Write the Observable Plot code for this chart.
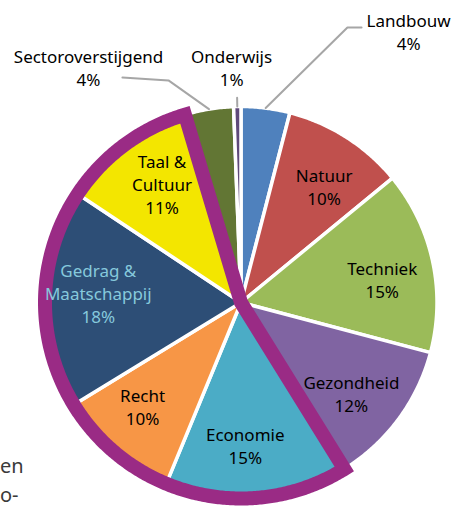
<!DOCTYPE html>
<html><head><meta charset="utf-8">
<script src="https://cdn.jsdelivr.net/npm/d3@7"></script>
<script src="https://cdn.jsdelivr.net/npm/@observablehq/plot@0.6"></script>
<style>
body{margin:0;background:#fff;width:454px;height:507px;overflow:hidden;position:relative;font-family:"Noto Sans",sans-serif}
#chart svg{display:block}
.bodytext{position:absolute;left:0;color:#3a3a3a;font-size:20px;line-height:29px;white-space:nowrap}
</style></head><body>
<div id="chart"></div>
<div class="bodytext" style="top:451px">en</div>
<div class="bodytext" style="top:480px">o-</div>
<script>
// ---- data ----
const categories = ["Landbouw","Natuur","Techniek","Gezondheid","Economie","Recht","Gedrag & Maatschappij","Taal & Cultuur","Sectoroverstijgend","Onderwijs"];
const shares = [4, 10, 15, 12, 15, 10, 18, 11, 4, 0.6];
const shareLabels = ["4%","10%","15%","12%","15%","10%","18%","11%","4%","1%"];
const sliceColors = ["#4F81BD","#C0504D","#9BBB59","#8064A2","#4BACC6","#F79646","#2D4E76","#F3E600","#627634","#5F497A"];
const highlighted = ["Economie","Recht","Gedrag & Maatschappij","Taal & Cultuur"];

// ---- layout (styling) ----
const cx = 240.5, cy = 302, R = 196;
const labelRadius = 0.73, labelTurn = 3 * Math.PI / 180;
const outsideLayout = {
  "Landbouw": {path: [[0.543, 1.403], [0.615, 1.403]], label: [0.855, 1.385]},
  "Sectoroverstijgend": {path: [[-0.370, 1.133], [-0.605, 1.148]], label: [-0.778, 1.202]},
  "Onderwijs": {radialTip: 1.045, label: [-0.048, 1.202]}
};
const lightLabel = {"Gedrag & Maatschappij": "#86C9DC"};
const font = "'Noto Sans', sans-serif";
const fs = 17, lh = 23 / 17;

// ---- geometry via d3.pie ----
const arcs = d3.pie().value(d => d).sort(null)(shares);
const pt = (a, k) => ({x: k * Math.sin(a), y: k * Math.cos(a)});
const step = Math.PI / 360;

const slicePts = [];
arcs.forEach((a, i) => {
  const name = categories[i];
  slicePts.push({name, x: 0, y: 0});
  const n = Math.max(2, Math.ceil((a.endAngle - a.startAngle) / step));
  for (let j = 0; j <= n; j++) {
    const t = a.startAngle + (a.endAngle - a.startAngle) * j / n;
    slicePts.push({name, ...pt(t, 1)});
  }
  slicePts.push({name, x: 0, y: 0});
});

const hiArcs = arcs.filter((a, i) => highlighted.includes(categories[i]));
const h0 = d3.min(hiArcs, a => a.startAngle), h1 = d3.max(hiArcs, a => a.endAngle);
const outlinePts = [{x: 0, y: 0}];
{
  const n = Math.ceil((h1 - h0) / step);
  for (let j = 0; j <= n; j++) outlinePts.push(pt(h0 + (h1 - h0) * j / n, 1));
  outlinePts.push({x: 0, y: 0});
  outlinePts.push(pt(h0, 1));
}

const innerLabels = [], outerLabels = [], leaderPts = [];
arcs.forEach((a, i) => {
  const name = categories[i];
  const mid = (a.startAngle + a.endAngle) / 2;
  const text = name.replace("& ", "&\n") + "\n" + shareLabels[i];
  const lay = outsideLayout[name];
  if (lay) {
    outerLabels.push({name, text, x: lay.label[0], y: lay.label[1]});
    leaderPts.push({name, ...pt(mid, 1)});
    if (lay.path) lay.path.forEach(p => leaderPts.push({name, x: p[0], y: p[1]}));
    if (lay.radialTip) leaderPts.push({name, ...pt(mid, lay.radialTip)});
  } else {
    const p = pt(mid + labelTurn, labelRadius);
    innerLabels.push({name, text, x: p.x, y: p.y, light: !!lightLabel[name]});
  }
});

const chart = Plot.plot({
  width: 454, height: 507, margin: 0,
  style: {fontFamily: font, background: "transparent"},
  x: {domain: [-1, 1], range: [cx - R, cx + R], axis: null},
  y: {domain: [-1, 1], range: [cy + R, cy - R], axis: null},
  color: {domain: categories, range: sliceColors},
  marks: [
    Plot.line(slicePts, {x: "x", y: "y", z: "name", fill: "name", stroke: "white", strokeWidth: 3.5, strokeLinejoin: "round"}),
    Plot.line(outlinePts, {x: "x", y: "y", stroke: "#9A2B85", strokeWidth: 14, strokeLinejoin: "miter", strokeMiterlimit: 20}),
    Plot.line(leaderPts, {x: "x", y: "y", z: "name", stroke: "#A6A6A6", strokeWidth: 2}),
    Plot.text(innerLabels.filter(d => !d.light), {x: "x", y: "y", text: "text", fill: "black", fontSize: fs, lineHeight: lh, fontFamily: font}),
    Plot.text(innerLabels.filter(d => d.light), {x: "x", y: "y", text: "text", fill: "#86C9DC", fontSize: fs, lineHeight: lh, fontFamily: font}),
    Plot.text(outerLabels, {x: "x", y: "y", text: "text", fill: "black", fontSize: fs, lineHeight: lh, fontFamily: font})
  ]
});
document.getElementById("chart").appendChild(chart);
</script>
</body></html>
